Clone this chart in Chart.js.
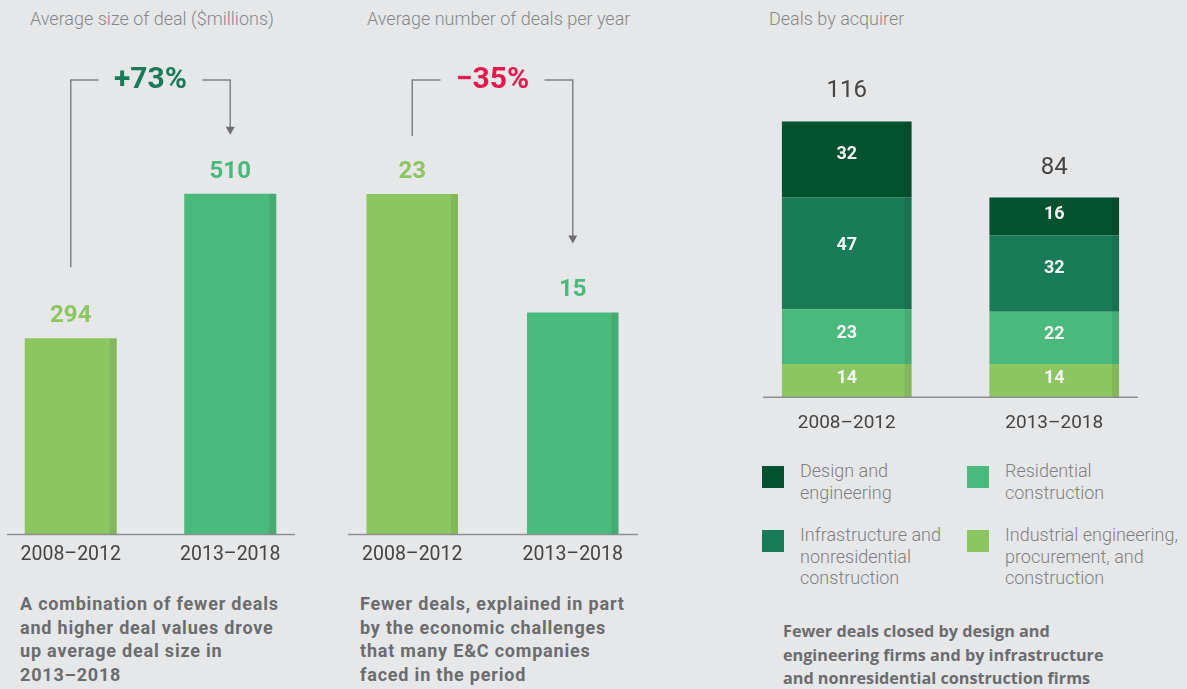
<!DOCTYPE html>
<html>
<head>
<meta charset="utf-8">
<script src="https://cdn.jsdelivr.net/npm/chart.js@4"></script>
<style>
body{margin:0;background:#e6e7e9;width:1187px;height:689px;overflow:hidden;position:relative;font-family:Roboto,sans-serif}
canvas{position:absolute;top:0}
.title{position:absolute;top:8px;font-size:18px;font-weight:300;color:#85878a;white-space:nowrap}
.cap{position:absolute;font-family:Roboto,sans-serif;font-size:18px;font-weight:700;letter-spacing:0.8px;color:#6b6c6e;line-height:23.5px;white-space:nowrap}
.cap3{font-family:"Open Sans",sans-serif;font-size:16.2px;letter-spacing:0}
.leg{position:absolute;font-size:18px;font-weight:300;color:#7d7f82;line-height:21.5px;white-space:nowrap}
.sw{position:absolute;width:22px;height:22px}
</style>
</head>
<body>
<div class="title" style="left:30px">Average size of deal ($millions)</div>
<div class="title" style="left:367px">Average number of deals per year</div>
<div class="title" style="left:769px">Deals by acquirer</div>

<canvas id="c1" style="left:-9px"></canvas>
<canvas id="c2" style="left:332px"></canvas>
<canvas id="c3" style="left:743px"></canvas>

<div class="sw" style="left:762px;top:466px;background:#03522f"></div>
<div class="leg" style="left:800px;top:460px">Design and<br>engineering</div>
<div class="sw" style="left:967px;top:466px;background:#4aba7c"></div>
<div class="leg" style="left:1005px;top:460px">Residential<br>construction</div>
<div class="sw" style="left:762px;top:530px;background:#1a7b59"></div>
<div class="leg" style="left:800px;top:524px">Infrastructure and<br>nonresidential<br>construction</div>
<div class="sw" style="left:967px;top:530px;background:#8cc661"></div>
<div class="leg" style="left:1005px;top:524px">Industrial engineering,<br>procurement, and<br>construction</div>

<div class="cap" style="left:20px;top:592px">A combination of fewer deals<br>and higher deal values drove<br>up average deal size in<br>2013–2018</div>
<div class="cap" style="left:360px;top:592px">Fewer deals, explained in part<br>by the economic challenges<br>that many E&amp;C companies<br>faced in the period</div>
<div class="cap cap3" style="left:783px;top:620px">Fewer deals closed by design and<br>engineering firms and by infrastructure<br>and nonresidential construction firms</div>

<script>
const periods = ['2008–2012', '2013–2018'];
const avgDealSize = [294, 510];
const avgDealsPerYear = [23, 15];
const changeLabels = ['+73%', '−35%'];

const industrialEPC = [14, 14];
const residential = [23, 22];
const infrastructure = [47, 32];
const designEngineering = [32, 16];

const cLight = '#8cc661', cMid = '#4aba7c', cInfra = '#1a7b59', cDark = '#03522f';

// darker strip on the right edge of each bar + labels
const barDecor = {
  id: 'barDecor',
  afterDatasetsDraw(chart, args, opts) {
    const ctx = chart.ctx;
    ctx.save();
    chart.data.datasets.forEach((ds, di) => {
      chart.getDatasetMeta(di).data.forEach((bar, i) => {
        const right = bar.x + bar.width / 2;
        ctx.fillStyle = 'rgba(0,0,0,0.07)';
        ctx.fillRect(right - 7, Math.min(bar.y, bar.base), 7, Math.abs(bar.base - bar.y));
        ctx.textAlign = 'center';
        ctx.textBaseline = 'middle';
        if (opts.stacked) {
          ctx.fillStyle = '#f4f4f4';
          ctx.font = 'bold 18px Roboto';
          ctx.fillText(ds.data[i], bar.x, bar.y + (bar.base - bar.y) * 0.42 + 1);
        } else {
          ctx.fillStyle = ds.backgroundColor[i];
          ctx.font = 'bold 24px Roboto';
          ctx.fillText(ds.data[i], bar.x, bar.y - 22);
        }
      });
    });
    if (opts.stacked) {
      const last = chart.getDatasetMeta(chart.data.datasets.length - 1).data;
      ctx.fillStyle = '#444';
      ctx.font = '24px Roboto';
      last.forEach((bar, i) => {
        let total = 0;
        chart.data.datasets.forEach(ds => total += ds.data[i]);
        ctx.fillText(total, bar.x, bar.y - 30);
      });
    }
    ctx.restore();
  }
};

const baseline = {
  id: 'baseline',
  afterDatasetsDraw(chart, args, opts) {
    const ctx = chart.ctx, a = chart.chartArea;
    const y = chart.scales.y.getPixelForValue(0);
    ctx.save();
    ctx.strokeStyle = '#8e8f91';
    ctx.lineWidth = 1.5;
    ctx.beginPath();
    ctx.moveTo(a.left + opts.inL, y);
    ctx.lineTo(a.right - opts.inR, y);
    ctx.stroke();
    ctx.restore();
  }
};

const bracket = {
  id: 'bracket',
  afterDatasetsDraw(chart, args, opts) {
    if (!opts.text) return;
    const ctx = chart.ctx;
    const bars = chart.getDatasetMeta(0).data;
    const b1 = bars[0], b2 = bars[1];
    const mid = (b1.x + b2.x) / 2, yTop = opts.y;
    const tip = b2.y - opts.rightOff;
    ctx.save();
    ctx.strokeStyle = '#808284';
    ctx.lineWidth = 1.5;
    ctx.beginPath();
    ctx.moveTo(b1.x, b1.y - opts.leftOff);
    ctx.lineTo(b1.x, yTop);
    ctx.lineTo(mid - opts.gap, yTop);
    ctx.moveTo(mid + opts.gap, yTop);
    ctx.lineTo(b2.x, yTop);
    ctx.lineTo(b2.x, tip - 7);
    ctx.stroke();
    ctx.fillStyle = '#6d6e70';
    ctx.beginPath();
    ctx.moveTo(b2.x - 4.5, tip - 8);
    ctx.lineTo(b2.x + 4.5, tip - 8);
    ctx.lineTo(b2.x, tip);
    ctx.closePath();
    ctx.fill();
    ctx.fillStyle = opts.color;
    ctx.font = 'bold 30px Roboto';
    ctx.textAlign = 'center';
    ctx.textBaseline = 'middle';
    ctx.fillText(opts.text, mid, yTop);
    ctx.restore();
  }
};

function xAxis(pad, size) {
  return {
    grid: {display: false, drawTicks: false},
    border: {display: false},
    ticks: {color: '#444', font: {family: 'Roboto', size: size}, padding: pad}
  };
}

function simpleBar(id, w, h, values, max, br, bw) {
  const cv = document.getElementById(id);
  cv.width = w; cv.height = h;
  cv.style.width = w + 'px'; cv.style.height = h + 'px';
  return new Chart(cv, {
    type: 'bar',
    data: {
      labels: periods,
      datasets: [{
        data: values,
        backgroundColor: [cLight, cMid],
        barPercentage: 1,
        categoryPercentage: bw
      }]
    },
    options: {
      responsive: false,
      animation: false,
      layout: {padding: 0},
      scales: {
        x: xAxis(9, 19.5),
        y: {display: false, min: 0, max: max}
      },
      plugins: {
        legend: {display: false},
        tooltip: {enabled: false},
        baseline: {inL: 16, inR: 15},
        bracket: br,
        barDecor: {stacked: false}
      }
    },
    plugins: [baseline, barDecor, bracket]
  });
}

simpleBar('c1', 319, 576, avgDealSize, 800,
  {text: changeLabels[0], color: '#1b7a57', y: 80, gap: 52, leftOff: 71, rightOff: 59}, 0.577);
simpleBar('c2', 321, 576, avgDealsPerYear, 36.1,
  {text: changeLabels[1], color: '#e5194e', y: 80, gap: 52, leftOff: 58, rightOff: 69}, 0.57);

(function () {
  const cv = document.getElementById('c3');
  cv.width = 415; cv.height = 450;
  cv.style.width = '415px'; cv.style.height = '450px';
  const mk = (label, data, color) => ({label, data, backgroundColor: color, barPercentage: 1, categoryPercentage: 0.625, stack: 's'});
  new Chart(cv, {
    type: 'bar',
    data: {
      labels: periods,
      datasets: [
        mk('Industrial engineering, procurement, and construction', industrialEPC, cLight),
        mk('Residential construction', residential, cMid),
        mk('Infrastructure and nonresidential construction', infrastructure, cInfra),
        mk('Design and engineering', designEngineering, cDark)
      ]
    },
    options: {
      responsive: false,
      animation: false,
      layout: {padding: 0},
      scales: {
        x: Object.assign(xAxis(15, 19), {stacked: true}),
        y: {display: false, stacked: true, min: 0, max: 167.1}
      },
      plugins: {
        legend: {display: false},
        tooltip: {enabled: false},
        baseline: {inL: 20, inR: 20},
        barDecor: {stacked: true}
      }
    },
    plugins: [baseline, barDecor]
  });
})();
</script>
</body>
</html>
